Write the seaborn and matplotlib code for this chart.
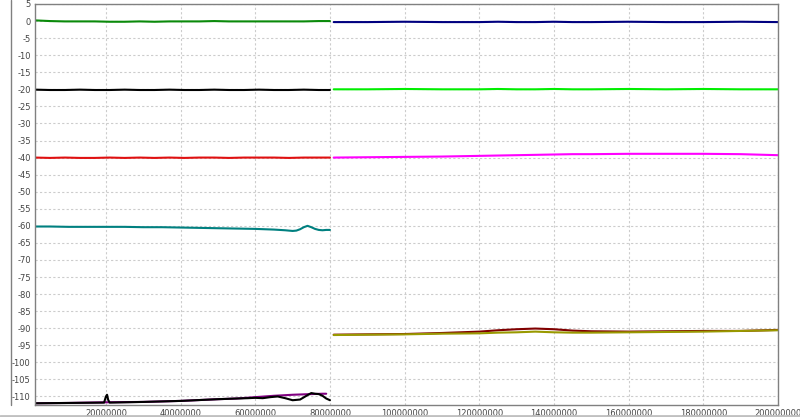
import matplotlib
matplotlib.use("Agg")
import matplotlib.pyplot as plt
import seaborn as sns
from matplotlib.lines import Line2D

# values in MHz-like units (x in millions)
x_left = [1, 5, 9, 13, 17, 21, 25, 29, 33, 37, 41, 45, 49, 53, 57, 61, 65, 69, 73, 77, 80]
green_left = [0.2, 0.0, -0.1, -0.1, -0.1, -0.2, -0.2, -0.1, -0.2, -0.1, -0.1,
              -0.1, 0.0, -0.1, -0.1, -0.1, -0.1, -0.1, -0.1, 0.0, 0.0]
black_left = [-20.1, -20.2, -20.2, -20.1, -20.2, -20.2, -20.1, -20.2, -20.2, -20.1, -20.2,
              -20.2, -20.1, -20.2, -20.2, -20.1, -20.2, -20.2, -20.1, -20.2, -20.2]
red_left = [-40.0, -40.1, -40.0, -40.1, -40.1, -40.0, -40.1, -40.0, -40.1, -40.0, -40.1,
            -40.0, -40.0, -40.1, -40.0, -40.0, -40.0, -40.1, -40.0, -40.0, -40.0]

x_teal = [1, 5, 10, 15, 20, 25, 30, 35, 40, 45, 50, 55, 60, 65, 68, 70, 71, 72, 73, 74,
          75, 76, 77, 78, 79, 80]
teal = [-60.2, -60.2, -60.3, -60.3, -60.3, -60.3, -60.4, -60.4, -60.5, -60.6, -60.7,
        -60.8, -60.9, -61.1, -61.3, -61.5, -61.4, -61.0, -60.4, -60.0, -60.4, -60.9,
        -61.2, -61.3, -61.2, -61.2]

x_purple = [1, 10, 20, 30, 40, 50, 55, 60, 65, 70, 75, 78, 79]
purple = [-112.0, -111.9, -111.7, -111.6, -111.3, -110.8, -110.6, -110.2, -109.8,
          -109.5, -109.3, -109.2, -109.2]

x_black_low = [1, 10, 19.5, 20, 20.3, 20.6, 21, 30, 40, 50, 55, 58, 60, 62, 64, 66, 68,
               70, 72, 74, 75, 76, 77, 78, 79, 80]
black_low = [-112.0, -111.9, -111.8, -110.0, -109.5, -111.0, -111.8, -111.6, -111.3,
             -110.8, -110.6, -110.5, -110.4, -110.5, -110.2, -110.0, -110.5, -111.1,
             -110.9, -109.6, -109.0, -109.2, -109.3, -109.8, -110.6, -111.1]

x_right = [81, 90, 100, 110, 120, 125, 130, 135, 140, 145, 150, 160, 170, 180, 190, 200]
navy = [-0.3, -0.3, -0.2, -0.3, -0.3, -0.2, -0.3, -0.3, -0.2, -0.3, -0.3, -0.2, -0.3,
        -0.3, -0.2, -0.3]
lime = [-20.0, -20.0, -19.9, -20.0, -20.0, -19.9, -20.0, -20.0, -19.9, -20.0, -20.0,
        -19.9, -20.0, -19.9, -20.0, -20.0]
magenta = [-40.0, -39.9, -39.8, -39.7, -39.5, -39.4, -39.3, -39.2, -39.1, -39.0, -39.0,
           -38.9, -38.9, -38.9, -39.0, -39.3]
darkred = [-91.9, -91.8, -91.7, -91.4, -91.0, -90.6, -90.3, -90.1, -90.3, -90.7, -90.9,
           -91.0, -90.9, -90.8, -90.8, -90.5]
olive = [-92.0, -91.9, -91.8, -91.6, -91.5, -91.3, -91.2, -91.0, -91.2, -91.3, -91.3,
         -91.2, -91.1, -91.0, -90.8, -90.6]

series = [
    (x_left, green_left, "#0a8a0a"),
    (x_left, black_left, "#000000"),
    (x_left, red_left, "#e01010"),
    (x_teal, teal, "#008080"),
    (x_purple, purple, "#800080"),
    (x_black_low, black_low, "#000000"),
    (x_right, navy, "#000080"),
    (x_right, lime, "#00ee00"),
    (x_right, magenta, "#ff00ff"),
    (x_right, darkred, "#800000"),
    (x_right, olive, "#999900"),
]

sns.set_style("white")
fig = plt.figure(figsize=(8, 4.17), dpi=100)
ax = fig.add_axes([35 / 800, 1 - 405 / 417, 743 / 800, 401 / 417])

for xs, ys, c in series:
    sns.lineplot(x=[v * 1e6 for v in xs], y=ys, color=c, linewidth=1.5, ax=ax)

ax.set_xlim(1e6, 200e6)
ax.set_ylim(-112.5, 5)
ax.set_xticks([i * 20000000 for i in range(1, 11)])
ax.set_xticklabels([str(i * 20000000) for i in range(1, 11)])
ax.set_yticks(list(range(5, -111, -5)))
ax.set_yticklabels([str(v) for v in range(5, -111, -5)])
ax.tick_params(labelsize=6, colors="#444444", length=0, pad=3)
ax.grid(True, color="#cccccc", linestyle=(0, (2, 2)), linewidth=0.8)
for s in ax.spines.values():
    s.set_color("#808080")
    s.set_linewidth(1)

# window frame bits
fig.add_artist(Line2D([11 / 800, 11 / 800], [1 - 405 / 417, 1], color="#808080", lw=1))
fig.add_artist(Line2D([0, 1], [1 / 417, 1 / 417], color="#c0c0c0", lw=2))

fig.savefig("out.png", dpi=100)
